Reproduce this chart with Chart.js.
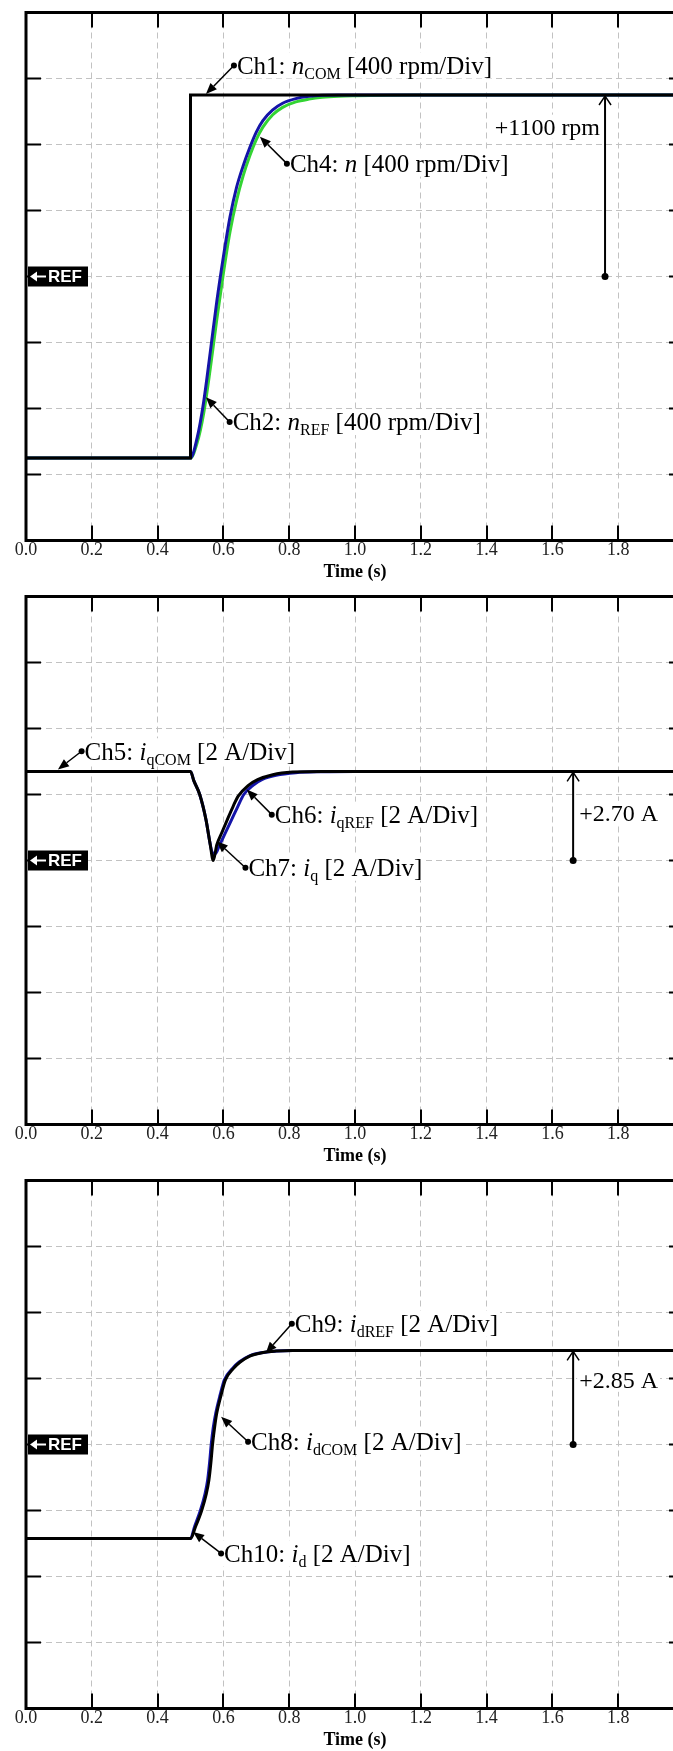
<!DOCTYPE html>
<html><head><meta charset="utf-8">
<script src="https://cdn.jsdelivr.net/npm/chart.js@4.4.0/dist/chart.umd.min.js"></script>
<style>
html,body{margin:0;padding:0;background:#fff;overflow:hidden;width:673px;height:1751px;position:relative;}
canvas{position:absolute;left:0;}
</style></head><body>
<canvas id="c1" width="720" height="584" style="top:0px"></canvas>
<canvas id="c2" width="720" height="584" style="top:584px"></canvas>
<canvas id="c3" width="720" height="584" style="top:1168px"></canvas>
<script>
// ---------- data ----------
const xTickValues = [0, 0.2, 0.4, 0.6, 0.8, 1.0, 1.2, 1.4, 1.6, 1.8, 2.0];
const xTickLabels = ['0.0','0.2','0.4','0.6','0.8','1.0','1.2','1.4','1.6','1.8','2.0'];
const yTicksSpeed = [-1600,-1200,-800,-400,0,400,800,1200,1600];
const yTicksCurrent = [-8,-6,-4,-2,0,2,4,6,8];

// Panel 1: speed (rpm)
const tNCOM = [0, 0.5, 0.5, 2.0];
const nCOM  = [-1100, -1100, 1100, 1100];
const tN    = [0, 0.5, 0.52, 0.54, 0.56, 0.58, 0.60, 0.62, 0.64, 0.66, 0.68, 0.70, 0.72, 0.75, 0.78, 0.82, 0.86, 0.90, 0.95, 1.0, 1.1, 1.2, 2.0];
const nMeas = [-1100,-1100,-980,-760,-460,-150,120,360,540,670,780,875,945,1010,1050,1078,1092,1098,1100,1100,1100,1100,1100];
const nREF  = [-1100,-1100,-1010,-830,-560,-260,20,270,460,610,730,830,905,980,1025,1058,1075,1086,1093,1096,1099,1100,1100];

// Panel 2: q-axis current (A)
const tIqCOM = [0, 0.5, 0.51, 0.528, 0.547, 0.56, 0.569, 0.58, 0.595, 0.612, 0.63, 0.645, 0.675, 0.704, 0.75, 0.81, 0.9, 1.0, 2.0];
const iqCOM  = [2.7, 2.7, 2.42, 2.0, 1.24, 0.48, 0.0, 0.48, 0.84, 1.24, 1.65, 1.95, 2.27, 2.45, 2.6, 2.68, 2.7, 2.7, 2.7];
const tIqREF = [0, 0.5, 0.51, 0.528, 0.547, 0.558, 0.566, 0.575, 0.589, 0.607, 0.625, 0.643, 0.662, 0.69, 0.717, 0.76, 0.82, 0.9, 1.0, 2.0];
const iqREF  = [2.7, 2.7, 2.42, 2.0, 1.24, 0.6, 0.25, 0.2, 0.48, 0.86, 1.24, 1.62, 2.0, 2.28, 2.45, 2.58, 2.66, 2.69, 2.7, 2.7];

// Panel 3: d-axis current (A)
const tIdCOM = [0, 0.5, 0.515, 0.534, 0.548, 0.556, 0.562, 0.567, 0.573, 0.58, 0.593, 0.606, 0.63, 0.651, 0.68, 0.717, 0.76, 0.81, 0.9, 2.0];
const idCOM  = [-2.85,-2.85,-2.5,-2.0,-1.5,-1.08,-0.55,0,0.5,0.96,1.5,1.96,2.3,2.5,2.68,2.78,2.83,2.85,2.85,2.85];
const tId    = [0, 0.5, 0.512, 0.53, 0.544, 0.552, 0.558, 0.563, 0.569, 0.577, 0.59, 0.603, 0.627, 0.648, 0.678, 0.715, 0.76, 0.81, 0.9, 2.0];
const idMeas = [-2.85,-2.85,-2.5,-2.0,-1.5,-1.08,-0.55,0,0.5,0.96,1.5,1.96,2.3,2.5,2.68,2.78,2.83,2.85,2.85,2.85];

// Annotation texts (runs: t=text, i=italic, s=subscript)
const lblCh1 = [{t:'Ch1: '},{t:'n',i:1},{t:'COM',s:1},{t:' [400 rpm/Div]'}];
const lblCh4 = [{t:'Ch4: '},{t:'n',i:1},{t:' [400 rpm/Div]'}];
const lblCh2 = [{t:'Ch2: '},{t:'n',i:1},{t:'REF',s:1},{t:' [400 rpm/Div]'}];
const lblCh5 = [{t:'Ch5: '},{t:'i',i:1},{t:'qCOM',s:1},{t:' [2 A/Div]'}];
const lblCh6 = [{t:'Ch6: '},{t:'i',i:1},{t:'qREF',s:1},{t:' [2 A/Div]'}];
const lblCh7 = [{t:'Ch7: '},{t:'i',i:1},{t:'q',s:1},{t:' [2 A/Div]'}];
const lblCh9 = [{t:'Ch9: '},{t:'i',i:1},{t:'dREF',s:1},{t:' [2 A/Div]'}];
const lblCh8 = [{t:'Ch8: '},{t:'i',i:1},{t:'dCOM',s:1},{t:' [2 A/Div]'}];
const lblCh10 = [{t:'Ch10: '},{t:'i',i:1},{t:'d',s:1},{t:' [2 A/Div]'}];

const BLUE = '#1414a8', GREEN = '#33d433', BLACK = '#000';
const SERIF = '"Liberation Serif","Times New Roman",serif';

function pts(t, v){ return t.map((x,i)=>({x:x, y:v[i]})); }

function drawRuns(ctx, runs, x, yMid, size, subSize, bg){
  const base = yMid + size*0.33;
  let w = 0;
  const fonts = runs.map(r => `${r.i?'italic ':''}${r.s?subSize:size}px ${SERIF}`);
  runs.forEach((r,k)=>{ ctx.font = fonts[k]; w += ctx.measureText(r.t).width; });
  if (bg){ ctx.fillStyle='#fff'; ctx.fillRect(x-2, yMid-size*0.52, w+4, size*1.04); }
  ctx.fillStyle = '#000'; ctx.textBaseline='alphabetic'; ctx.textAlign='left';
  let cx = x;
  runs.forEach((r,k)=>{ ctx.font = fonts[k]; ctx.fillText(r.t, cx, base + (r.s ? size*0.2 : 0)); cx += ctx.measureText(r.t).width; });
  return w;
}

const framePlugin = {
  id: 'frame',
  afterDatasetsDraw(chart){
    const {ctx, chartArea:a, scales:{x, y}} = chart;
    ctx.save();
    ctx.strokeStyle = '#000'; ctx.lineWidth = 2;
    const tl = 15;
    xTickValues.forEach(v=>{
      if (v<=x.min || v>=x.max) return;
      const px = Math.round(x.getPixelForValue(v));
      ctx.beginPath(); ctx.moveTo(px, a.bottom); ctx.lineTo(px, a.bottom-tl);
      ctx.moveTo(px, a.top); ctx.lineTo(px, a.top+tl); ctx.stroke();
    });
    y.ticks.forEach(t=>{
      const v = t.value; if (v<=y.min || v>=y.max) return;
      const py = y.getPixelForValue(v);
      ctx.beginPath(); ctx.moveTo(a.left, py); ctx.lineTo(a.left+tl, py);
      ctx.moveTo(a.right, py); ctx.lineTo(a.right-tl, py); ctx.stroke();
    });
    ctx.lineWidth = 3;
    ctx.strokeRect(a.left, a.top, a.right-a.left, a.bottom-a.top);
    ctx.restore();
  },
  afterDraw(chart){
    const ann = chart.options.plugins.frame.ann || {};
    const {ctx, chartArea:a, scales:{x, y}} = chart;
    ctx.save();
    // REF box
    const ry = y.getPixelForValue(0);
    ctx.fillStyle = '#000';
    ctx.fillRect(a.left+2, ry-10, 60, 20);
    ctx.fillStyle = '#fff'; ctx.strokeStyle = '#fff'; ctx.lineWidth = 2;
    ctx.beginPath(); ctx.moveTo(a.left+7, ry); ctx.lineTo(a.left+20, ry); ctx.stroke();
    ctx.beginPath(); ctx.moveTo(a.left+4, ry); ctx.lineTo(a.left+11, ry-5); ctx.lineTo(a.left+11, ry+5); ctx.closePath(); ctx.fill();
    ctx.font = 'bold 17px "Liberation Sans",Arial,sans-serif'; ctx.textBaseline='middle'; ctx.textAlign='left';
    ctx.fillText('REF', a.left+22, ry+1);
    // labelled arrows
    (ann.labels||[]).forEach(L=>{
      const dx = x.getPixelForValue(L.dot[0]), dy = y.getPixelForValue(L.dot[1]);
      const tx = x.getPixelForValue(L.tip[0]), ty = y.getPixelForValue(L.tip[1]);
      drawRuns(ctx, L.runs, dx+3, dy, 25, 16, true);
      ctx.strokeStyle='#000'; ctx.fillStyle='#000'; ctx.lineWidth=1.5;
      const ang = Math.atan2(ty-dy, tx-dx);
      const hl = 11, hw = 4.5;
      const bx = tx - hl*Math.cos(ang), by = ty - hl*Math.sin(ang);
      ctx.beginPath(); ctx.moveTo(dx, dy); ctx.lineTo(bx, by); ctx.stroke();
      ctx.beginPath(); ctx.moveTo(tx, ty);
      ctx.lineTo(bx + hw*Math.sin(ang), by - hw*Math.cos(ang));
      ctx.lineTo(bx - hw*Math.sin(ang), by + hw*Math.cos(ang));
      ctx.closePath(); ctx.fill();
      ctx.beginPath(); ctx.arc(dx, dy, 3, 0, Math.PI*2); ctx.fill();
    });
    // step size marker
    if (ann.step){
      const S = ann.step;
      const lx = x.getPixelForValue(S.t), y0 = y.getPixelForValue(0), y1 = y.getPixelForValue(S.v);
      ctx.strokeStyle='#000'; ctx.fillStyle='#000'; ctx.lineWidth=2;
      ctx.beginPath(); ctx.moveTo(lx, y0); ctx.lineTo(lx, y1+1); ctx.stroke();
      ctx.lineWidth=1.5;
      ctx.beginPath(); ctx.moveTo(lx-6, y1+10); ctx.lineTo(lx, y1+1); ctx.lineTo(lx+6, y1+10); ctx.stroke();
      ctx.beginPath(); ctx.arc(lx, y0, 3.5, 0, Math.PI*2); ctx.fill();
      const ty = y.getPixelForValue(S.textV);
      ctx.font = `24px ${SERIF}`;
      const w = ctx.measureText(S.text).width;
      const tx = S.align==='right' ? lx - 5 - w : lx + 6;
      ctx.fillStyle='#fff'; ctx.fillRect(tx-2, ty-12, w+4, 24);
      ctx.fillStyle='#000'; ctx.textBaseline='alphabetic'; ctx.textAlign='left';
      ctx.fillText(S.text, tx, ty+8);
    }
    ctx.restore();
  }
};

function makePanel(id, yTicks, datasets, ann){
  const gridCol = '#c2c2c2';
  return new Chart(document.getElementById(id), {
    type: 'line',
    data: { datasets: datasets },
    plugins: [framePlugin],
    options: {
      responsive: false, animation: false, devicePixelRatio: 1,
      layout: { padding: { left: 26, right: 36, top: 12.5, bottom: 0 } },
      plugins: { legend: {display:false}, tooltip: {enabled:false}, frame: { ann: ann } },
      elements: { point: { radius: 0 } },
      scales: {
        x: {
          type: 'linear', min: 0, max: 2, position: 'bottom',
          afterBuildTicks: s => { s.ticks = xTickValues.map(v=>({value:v})); },
          ticks: { callback: (v,i)=> xTickLabels[i], autoSkip:false, maxRotation:0,
                   font: {family: SERIF, size: 18, lineHeight: 1}, color: '#222', padding: 1 },
          grid: { color: gridCol, lineWidth: 1, drawTicks: false },
          border: { display: false, dash: [6,4] },
          title: { display: true, text: 'Time (s)', color: '#000',
                   font: {family: SERIF, size: 18, weight: 'bold', lineHeight: 1}, padding: {top:0, bottom:3} },
          afterFit: s => { s.height = 43.5; }
        },
        y: {
          type: 'linear', min: yTicks[0], max: yTicks[yTicks.length-1],
          afterBuildTicks: s => { s.ticks = yTicks.map(v=>({value:v})); },
          ticks: { display: false },
          grid: { color: gridCol, lineWidth: 1, drawTicks: false },
          border: { display: false, dash: [6,4] },
          afterFit: s => { s.width = 0; }
        }
      }
    }
  });
}

makePanel('c1', yTicksSpeed, [
  { data: pts(tNCOM, nCOM), borderColor: BLACK, borderWidth: 3, tension: 0 },
  { data: pts(tN, nMeas), borderColor: BLUE, borderWidth: 3, cubicInterpolationMode: 'monotone' },
  { data: pts(tN, nREF), borderColor: GREEN, borderWidth: 3, cubicInterpolationMode: 'monotone' }
], {
  labels: [
    { runs: lblCh1, dot: [0.632, 1279], tip: [0.547, 1106] },
    { runs: lblCh4, dot: [0.793, 684], tip: [0.711, 847] },
    { runs: lblCh2, dot: [0.619, -882], tip: [0.547, -732] }
  ],
  step: { t: 1.76, v: 1100, text: '+1100 rpm', textV: 908, align: 'right' }
});

makePanel('c2', yTicksCurrent, [
  { data: pts(tIqCOM, iqCOM), borderColor: BLACK, borderWidth: 3, cubicInterpolationMode: 'monotone' },
  { data: pts(tIqREF, iqREF), borderColor: BLUE, borderWidth: 3, cubicInterpolationMode: 'monotone' }
], {
  labels: [
    { runs: lblCh5, dot: [0.169, 3.31], tip: [0.097, 2.76] },
    { runs: lblCh6, dot: [0.747, 1.39], tip: [0.671, 2.15] },
    { runs: lblCh7, dot: [0.667, -0.22], tip: [0.580, 0.58] }
  ],
  step: { t: 1.663, v: 2.7, text: '+2.70 A', textV: 1.445, align: 'left' }
});

makePanel('c3', yTicksCurrent, [
  { data: pts(tIdCOM, idCOM), borderColor: BLACK, borderWidth: 3, cubicInterpolationMode: 'monotone' },
  { data: pts(tId, idMeas), borderColor: BLUE, borderWidth: 3, cubicInterpolationMode: 'monotone' }
], {
  labels: [
    { runs: lblCh9, dot: [0.808, 3.66], tip: [0.729, 2.77] },
    { runs: lblCh8, dot: [0.675, 0.085], tip: [0.593, 0.84] },
    { runs: lblCh10, dot: [0.593, -3.30], tip: [0.508, -2.65] }
  ],
  step: { t: 1.663, v: 2.85, text: '+2.85 A', textV: 1.96, align: 'left' }
});
</script>
</body></html>
